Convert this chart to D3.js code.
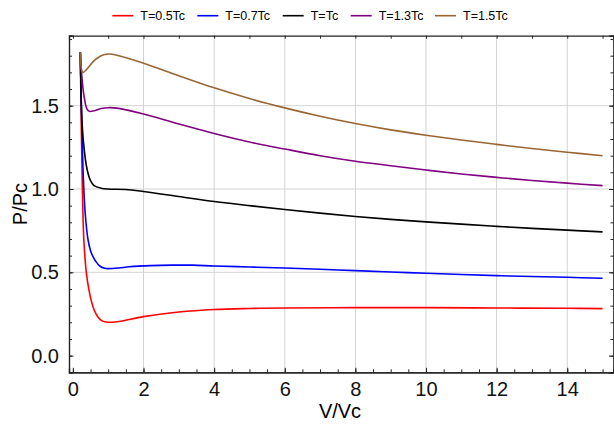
<!DOCTYPE html>
<html>
<head>
<meta charset="utf-8">
<title></title>
<style>
  body { margin: 0; background: #fff; }
  text { font-family: "Liberation Sans", Arial, sans-serif; }
</style>
</head>
<body>
<script src="https://d3js.org/d3.v7.min.js"></script>
<script type="text/javascript">

    // reduced volume / reduced pressure readings for each isotherm
    var v05 = [0.21, 0.23, 0.26, 0.28, 0.31, 0.38, 0.45, 0.52, 0.6, 0.7, 0.8, 0.9, 1.0, 1.3, 2, 3, 4, 5, 6, 8, 10, 12, 14, 15];
    var p05 = [1.82, 1.5, 1.1, 0.9, 0.694, 0.5, 0.4, 0.33, 0.275, 0.235, 0.212, 0.203, 0.2, 0.205, 0.234, 0.262, 0.277, 0.283, 0.286, 0.288, 0.288, 0.286, 0.284, 0.282];

    var v07 = [0.21, 0.25, 0.3, 0.35, 0.43, 0.5, 0.57, 0.65, 0.76, 0.9, 1.0, 1.3, 1.6, 2.2, 2.8, 3.4, 4, 5, 6, 7, 8, 9, 10, 11, 12, 13, 14, 15];
    var p07 = [1.82, 1.4, 1.05, 0.85, 0.694, 0.63, 0.594, 0.565, 0.538, 0.524, 0.522, 0.526, 0.533, 0.54, 0.543, 0.543, 0.538, 0.532, 0.526, 0.518, 0.51, 0.502, 0.494, 0.487, 0.48, 0.475, 0.47, 0.464];

    var v10 = [0.21, 0.25, 0.3, 0.4, 0.5, 0.6, 0.8, 1.0, 1.5, 2, 3, 4, 5, 6, 7, 8, 9, 10, 11, 12, 13, 14, 15];
    var p10 = [1.82, 1.45, 1.28, 1.12, 1.05, 1.02, 1.005, 1.0, 0.997, 0.985, 0.955, 0.925, 0.9, 0.877, 0.855, 0.835, 0.818, 0.803, 0.789, 0.776, 0.764, 0.753, 0.743];

    var v13 = [0.21, 0.3, 0.4, 0.47, 0.6, 0.8, 1.0, 1.3, 2, 3, 4, 5, 6, 7, 8, 9, 10, 11, 12, 13, 14, 15];
    var p13 = [1.82, 1.58, 1.48, 1.466, 1.47, 1.483, 1.488, 1.484, 1.45, 1.39, 1.333, 1.282, 1.24, 1.2, 1.167, 1.14, 1.114, 1.09, 1.07, 1.051, 1.035, 1.02];

    var v15 = [0.21, 0.28, 0.4, 0.6, 0.8, 1.0, 1.3, 2, 3, 4, 5, 6, 7, 8, 9, 10, 11, 12, 13, 14, 15];
    var p15 = [1.82, 1.7, 1.72, 1.77, 1.8, 1.81, 1.8, 1.755, 1.68, 1.607, 1.543, 1.487, 1.437, 1.393, 1.355, 1.323, 1.294, 1.268, 1.243, 1.221, 1.2];

    var names = ['T=0.5Tc', 'T=0.7Tc', 'T=Tc', 'T=1.3Tc', 'T=1.5Tc'];
    var colors = ['#ff0000', '#0000ff', '#000000', '#800080', '#996633'];
    var xs = [v05, v07, v10, v13, v15];
    var ys = [p05, p07, p10, p13, p15];

    var xTicks = [0, 2, 4, 6, 8, 10, 12, 14];
    var yTicks = [0.0, 0.5, 1.0, 1.5];

    var width = 614, height = 426;
    var plotL = 69, plotR = 613.5, plotT = 35.7, plotB = 372.3;

    var x = d3.scaleLinear().domain([-0.11, 15.31]).range([plotL, plotR]);
    var y = d3.scaleLinear().domain([-0.1, 1.92]).range([plotB, plotT]);

    var svg = d3.select('body')
                .append('svg')
                    .attr('width', width)
                    .attr('height', height);

    // grid lines
    svg.append('g').selectAll('line')
        .data(xTicks.filter(function(d) { return d > 0; }))
        .enter().append('line')
            .attr('x1', function(d) { return x(d); })
            .attr('x2', function(d) { return x(d); })
            .attr('y1', plotT).attr('y2', plotB)
            .attr('stroke', '#d3d3d3').attr('stroke-width', 1);
    svg.append('g').selectAll('line')
        .data(yTicks.filter(function(d) { return d > 0; }))
        .enter().append('line')
            .attr('y1', function(d) { return y(d); })
            .attr('y2', function(d) { return y(d); })
            .attr('x1', plotL).attr('x2', plotR)
            .attr('stroke', '#d3d3d3').attr('stroke-width', 1);

    // curves
    svg.append('clipPath').attr('id', 'clip')
        .append('rect')
            .attr('x', plotL).attr('y', plotT)
            .attr('width', plotR - plotL).attr('height', plotB - plotT);

    var line = d3.line()
                .x(function(d) { return x(d[0]); })
                .y(function(d) { return y(d[1]); })
                .curve(d3.curveCatmullRom.alpha(0.5));

    svg.append('g').attr('clip-path', 'url(#clip)')
        .selectAll('path')
        .data(xs.map(function(vs, i) { return vs.map(function(v, j) { return [v, ys[i][j]]; }); }))
        .enter().append('path')
            .attr('d', line)
            .attr('fill', 'none')
            .attr('stroke', function(d, i) { return colors[i]; })
            .attr('stroke-width', 1.6);

    // frame axes, ticks pointing inward
    var minorX = d3.range(0, 15.01, 0.5);
    var minorY = d3.range(0, 1.901, 0.1);

    svg.append('g')
        .attr('transform', 'translate(0,' + plotB + ')')
        .call(d3.axisBottom(x).tickValues(minorX).tickSize(-3).tickFormat(''));
    svg.append('g')
        .attr('transform', 'translate(0,' + plotB + ')')
        .call(d3.axisBottom(x).tickValues(xTicks).tickSize(-4.5).tickPadding(10));
    svg.append('g')
        .attr('transform', 'translate(0,' + plotT + ')')
        .call(d3.axisTop(x).tickValues(d3.range(0, 15.01, 1)).tickSize(-3).tickFormat(''));
    svg.append('g')
        .attr('transform', 'translate(' + plotL + ',0)')
        .call(d3.axisLeft(y).tickValues(minorY).tickSize(-3).tickFormat(''));
    svg.append('g')
        .attr('transform', 'translate(' + plotL + ',0)')
        .call(d3.axisLeft(y).tickValues(yTicks).tickSize(-4.5).tickPadding(10).tickFormat(d3.format('.1f')));
    svg.append('g')
        .attr('transform', 'translate(' + plotR + ',0)')
        .call(d3.axisRight(y).tickValues(minorY).tickSize(-3).tickFormat(''));
    svg.append('g')
        .attr('transform', 'translate(' + plotR + ',0)')
        .call(d3.axisRight(y).tickValues(yTicks).tickSize(-4.5).tickFormat(''));

    svg.selectAll('.domain').attr('stroke', '#222').attr('stroke-width', 1.2);
    svg.selectAll('.tick line').attr('stroke', '#222');
    svg.selectAll('.tick text')
        .attr('font-family', '"Liberation Sans", Arial, sans-serif')
        .attr('font-size', 20).attr('fill', '#111');

    // axis labels
    svg.append('text')
        .attr('x', 340).attr('y', 418)
        .attr('text-anchor', 'middle')
        .attr('font-size', 20)
        .text('V/Vc');
    svg.append('text')
        .attr('transform', 'translate(26.5,204) rotate(-90)')
        .attr('text-anchor', 'middle')
        .attr('font-size', 20)
        .text('P/Pc');

    // legend
    var legX = [112.3, 197.3, 282.7, 350.7, 435];
    var leg = svg.append('g').selectAll('g')
        .data(names)
        .enter().append('g')
            .attr('transform', function(d, i) { return 'translate(' + legX[i] + ',15.7)'; });
    leg.append('line')
        .attr('x1', 0).attr('x2', 21)
        .attr('stroke', function(d, i) { return colors[i]; })
        .attr('stroke-width', 1.6);
    leg.append('text')
        .attr('x', 28).attr('y', 4.3)
        .attr('font-size', 12.5)
        .text(function(d) { return d; });

</script>
</body>
</html>
